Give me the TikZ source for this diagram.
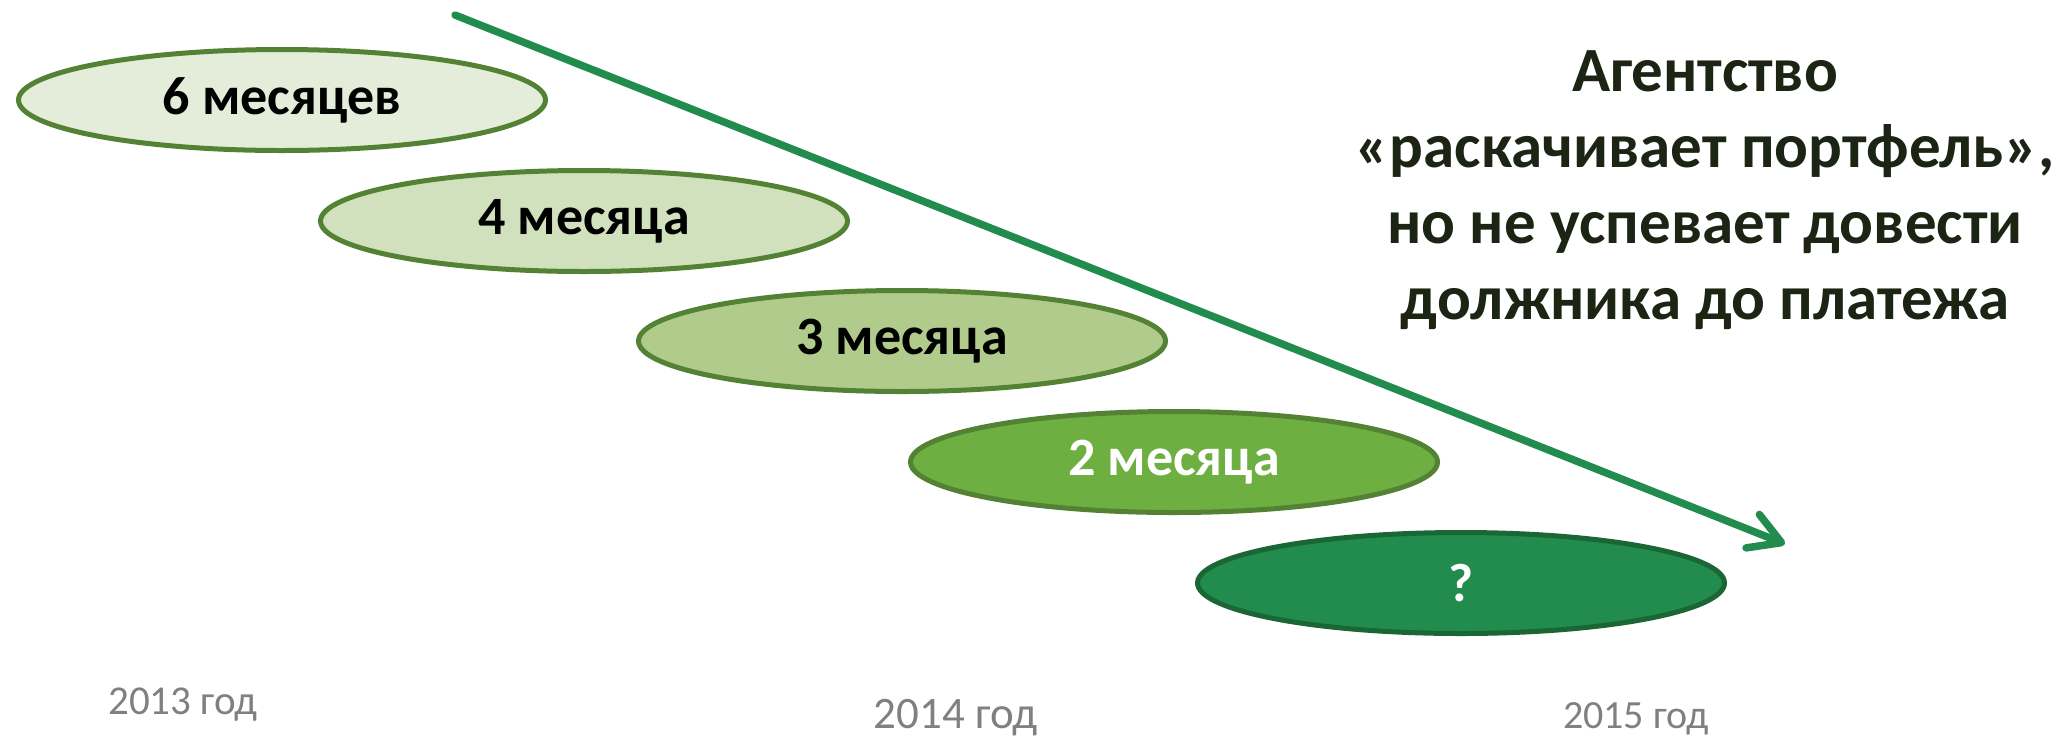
\documentclass[tikz,border=0pt]{standalone}
\usepackage{fontspec}
\setmainfont{Carlito}
\usepackage{tikz}
\usetikzlibrary{shapes.geometric,arrows.meta}
\definecolor{pale}{RGB}{227,237,218}
\definecolor{light}{RGB}{209,225,189}
\definecolor{mid}{RGB}{176,203,139}
\definecolor{leaf}{RGB}{110,175,66}
\definecolor{deep}{RGB}{34,139,78}
\definecolor{rim}{RGB}{84,130,52}
\definecolor{deeprim}{RGB}{26,102,52}
\definecolor{ink}{RGB}{28,36,20}
\definecolor{yeargray}{RGB}{128,128,128}

\begin{document}
\begin{tikzpicture}[x=1pt,y=-1pt,
    term/.style={ellipse,draw=rim,line width=5pt,inner sep=0pt,
      minimum width=527pt,minimum height=101pt,
      font=\fontsize{54}{60}\selectfont\bfseries},
    year/.style={text=yeargray,inner sep=0pt}]
         \useasboundingbox (0,0) rectangle (2072,740);
         \node[term,fill=pale] (e6) at (282,100) {6 месяцев};
         \node[term,fill=light] (e4) at (584,221) {4 месяца};
         \node[term,fill=mid] (e3) at (902,341) {3 месяца};
         \node[term,fill=leaf,text=white] (e2) at (1174,462) {2 месяца};
         \node[term,fill=deep,draw=deeprim,text=white] (eq) at (1461,583) {?};
         \coordinate (from) at (455,15);
         \coordinate (to) at (1785,544);
         \draw[deep,line width=7.5pt,line cap=round,
            -{Straight Barb[length=31pt,width=36pt,round]}] (from) -- (to);
         \node[text=ink,align=center,font=\fontsize{63}{76}\selectfont\bfseries]
            (note) at (1705,190)
            {Агентство\\«раскачивает портфель»,\\но не успевает довести\\должника до платежа};
         \node[year,font=\fontsize{41}{48}\selectfont] (y13) at (183,705) {2013 год};
         \node[year,font=\fontsize{45}{52}\selectfont] (y14) at (956,718) {2014 год};
         \node[year,font=\fontsize{40}{48}\selectfont] (y15) at (1636,719) {2015 год};
      \end{tikzpicture}
\end{document}
